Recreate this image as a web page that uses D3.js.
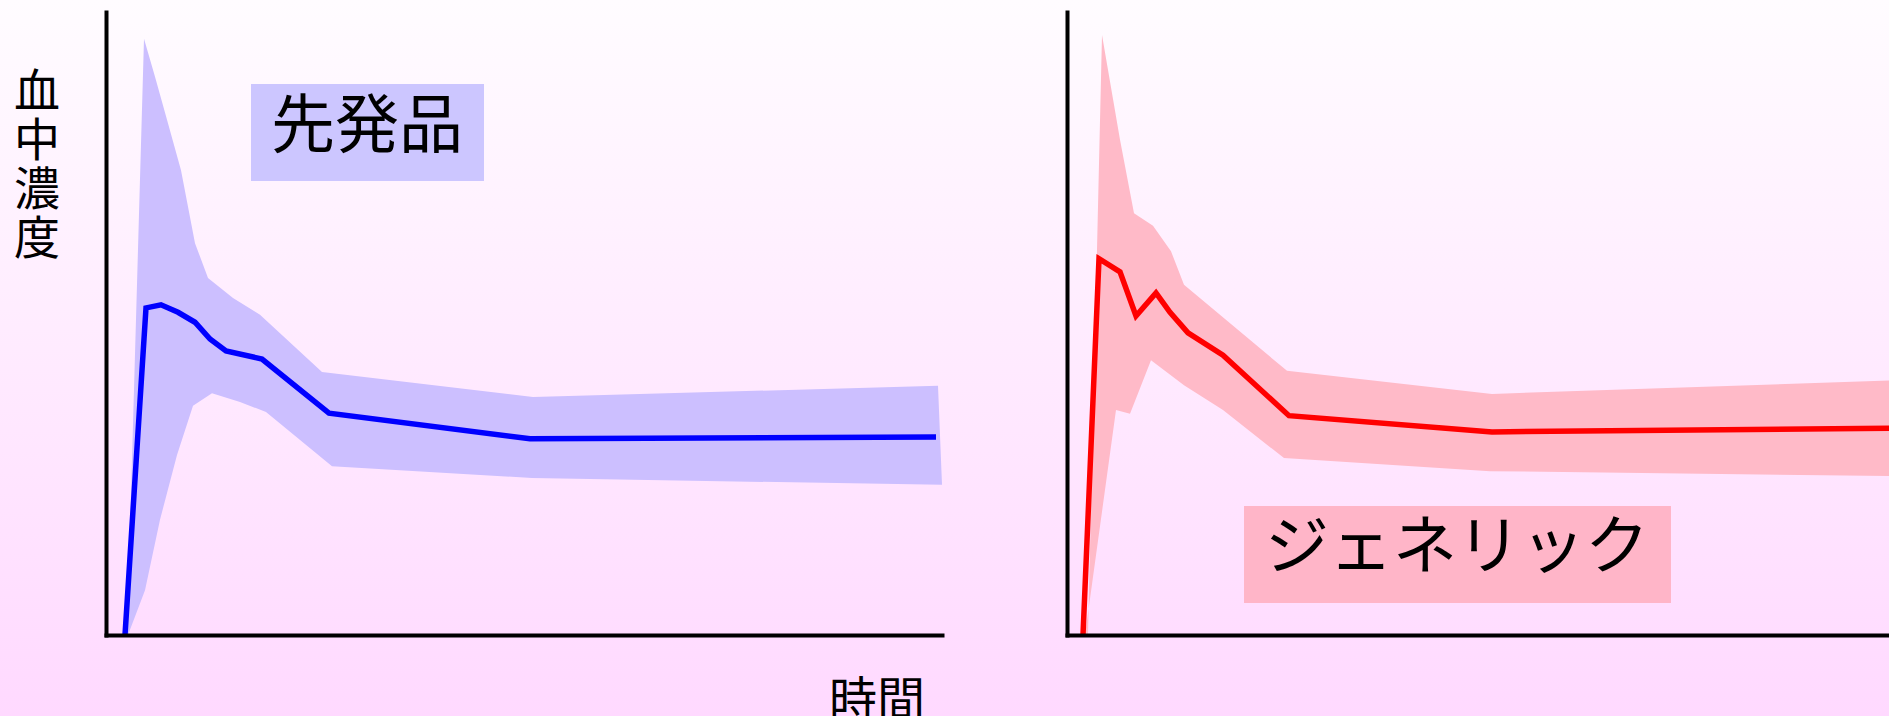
<!DOCTYPE html>
<html>
<head>
<meta charset="utf-8">
<script src="https://cdn.jsdelivr.net/npm/d3@7/dist/d3.min.js"></script>
<style>
  html, body { margin: 0; padding: 0; overflow: hidden; }
  svg { display: block; }
  text { font-family: "Noto Sans CJK JP", "Noto Sans", sans-serif; fill: #000; }
</style>
</head>
<body>
<svg id="chart" width="1889" height="716"></svg>
<script>
// Brand-name drug (先発品): mean concentration and range over time
const brandMeanTime  = [1.9, 4.0, 5.5, 7.2, 8.9, 10.4, 12.0, 15.6, 22.3, 42.4, 83.0];
const brandMeanConc  = [0, 52.5, 53.0, 51.8, 50.2, 47.5, 45.6, 44.3, 35.6, 31.5, 31.8];
const brandUpperTime = [2.1, 3.8, 4.9, 6.1, 7.5, 8.9, 10.2, 12.7, 15.4, 21.6, 42.7, 83.2];
const brandUpperConc = [0, 95.7, 89.6, 82.7, 74.6, 62.9, 57.3, 54.1, 51.4, 42.2, 38.2, 40.0];
const brandLowerTime = [2.2, 3.9, 5.4, 7.1, 8.7, 10.6, 13.4, 16.0, 22.6, 42.6, 83.6];
const brandLowerConc = [0, 7.2, 18.5, 28.9, 36.8, 38.8, 37.4, 35.8, 27.1, 25.2, 24.1];

// Generic drug (ジェネリック): mean concentration and range over time
const genericMeanTime  = [1.6, 3.2, 5.3, 6.9, 8.9, 10.3, 12.1, 15.6, 22.2, 42.5, 83.0];
const genericMeanConc  = [0, 60.4, 58.3, 51.2, 54.9, 51.8, 48.5, 44.9, 35.2, 32.6, 33.2];
const genericUpperTime = [2.1, 3.5, 5.3, 6.7, 8.6, 10.4, 11.7, 22.0, 42.5, 83.0];
const genericUpperConc = [0, 96.3, 79.5, 67.7, 65.7, 61.6, 56.2, 42.4, 38.7, 40.9];
const genericLowerTime = [1.8, 4.9, 6.3, 8.4, 11.7, 15.6, 21.7, 42.3, 83.6];
const genericLowerConc = [0, 36.1, 35.5, 44.1, 40.1, 36.1, 28.4, 26.3, 25.5];

// Text labels
const panelLabels = ["先発品", "ジェネリック"];
const yAxisTitle = "血中濃度";
const xAxisTitle = "時間";

const svg = d3.select("#chart");
const W = 1889, H = 716;

// Background gradient
const defs = svg.append("defs");
const grad = defs.append("linearGradient").attr("id", "bg")
  .attr("x1", 0).attr("y1", 0).attr("x2", 0).attr("y2", 1);
grad.append("stop").attr("offset", "0%").attr("stop-color", "#fffcff");
grad.append("stop").attr("offset", "100%").attr("stop-color", "#ffd9ff");
svg.append("rect").attr("width", W).attr("height", H).attr("fill", "url(#bg)");

// Shared scales; each panel is translated horizontally
const x = d3.scaleLinear().domain([0, 83.6]).range([106, 942]);
const y = d3.scaleLinear().domain([0, 100]).range([635, 12]);
const panelOffset = 961;

const zip = (ts, vs) => ts.map((t, i) => [t, vs[i]]);
const line = d3.line().x(d => x(d[0])).y(d => y(d[1]));

const panels = [
  {
    offset: 0,
    mean: zip(brandMeanTime, brandMeanConc),
    upper: zip(brandUpperTime, brandUpperConc),
    lower: zip(brandLowerTime, brandLowerConc),
    band: "#ccbfff", stroke: "#0000ff", box: "#ccc6ff",
    label: panelLabels[0],
    boxRect: [251, 84, 233, 97], textPos: [367, 147]
  },
  {
    offset: panelOffset,
    mean: zip(genericMeanTime, genericMeanConc),
    upper: zip(genericUpperTime, genericUpperConc),
    lower: zip(genericLowerTime, genericLowerConc),
    band: "#ffbac8", stroke: "#ff0000", box: "#ffb5c8",
    label: panelLabels[1],
    boxRect: [283, 506, 427, 97], textPos: [496, 568]
  }
];

panels.forEach(p => {
  const g = svg.append("g").attr("transform", `translate(${p.offset},0)`);

  // Range band: upper edge forward, lower edge back
  const poly = p.upper.concat(p.lower.slice().reverse());
  g.append("path")
    .attr("d", line(poly) + "Z")
    .attr("fill", p.band)
    .attr("stroke", "none");

  // Mean concentration line
  g.append("path")
    .attr("d", line(p.mean))
    .attr("fill", "none")
    .attr("stroke", p.stroke)
    .attr("stroke-width", 5.5)
    .attr("stroke-linejoin", "miter");

  // Axes without ticks
  const yAxis = g.append("g").attr("transform", `translate(${x(0)},0)`)
    .call(d3.axisLeft(y).ticks(0).tickSizeOuter(0));
  const xAxis = g.append("g").attr("transform", `translate(0,${y(0)})`)
    .call(d3.axisBottom(x).ticks(0).tickSizeOuter(0));
  [yAxis, xAxis].forEach(a => a.select(".domain")
    .attr("stroke", "#000").attr("stroke-width", 4).attr("stroke-linecap", "square"));

  // Panel label box
  const [bx, by, bw, bh] = p.boxRect;
  g.append("rect").attr("x", bx).attr("y", by).attr("width", bw).attr("height", bh)
    .attr("fill", p.box);
  g.append("text")
    .attr("x", p.textPos[0]).attr("y", p.textPos[1])
    .attr("text-anchor", "middle")
    .attr("font-size", 64)
    .text(p.label);
});

// Vertical y-axis title (upright characters, top to bottom)
svg.append("text")
  .attr("x", 37).attr("y", 67)
  .attr("font-size", 46)
  .attr("letter-spacing", 3)
  .style("writing-mode", "vertical-rl")
  .style("text-orientation", "upright")
  .text(yAxisTitle);

// x-axis title
svg.append("text")
  .attr("x", 877).attr("y", 717)
  .attr("text-anchor", "middle")
  .attr("font-size", 48)
  .text(xAxisTitle);
</script>
</body>
</html>
